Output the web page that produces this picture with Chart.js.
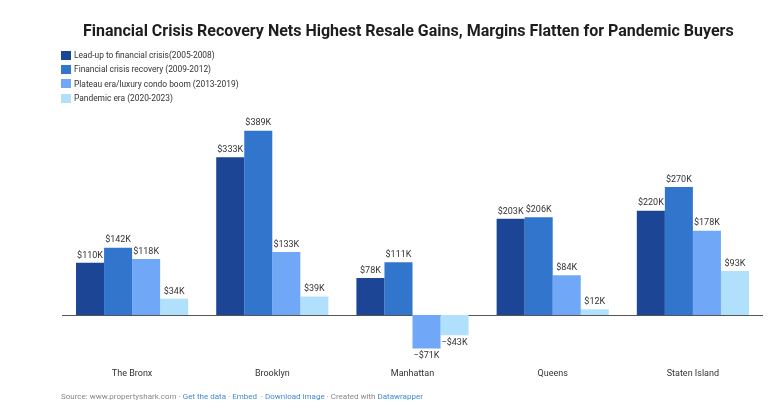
<!DOCTYPE html>
<html>
<head>
<meta charset="utf-8">
<script src="https://cdn.jsdelivr.net/npm/chart.js@4"></script>
<style>
    html, body { margin: 0; padding: 0; background: #fff; }
    body { width: 780px; height: 416px; position: relative; overflow: hidden; font-family: Roboto, sans-serif; }
    #chart { position: absolute; left: 0; top: 0; }
    .title { position: absolute; left: 83px; top: 21px; font-size: 16px; font-weight: 700; color: #1d1d1d; white-space: nowrap; }
    .legend { position: absolute; left: 61px; top: 48px; }
    .legend-item { height: 14.3px; display: flex; align-items: center; font-size: 8.4px; color: #333; }
    .legend-item span.sw { width: 10px; height: 9px; margin-right: 3px; display: inline-block; }
    .footer { position: absolute; left: 61px; top: 392px; font-size: 8px; color: #888; white-space: nowrap; }
    .footer a { color: #3f8ad8; text-decoration: none; }
</style>
</head>
<body>
<canvas id="chart" width="780" height="416"></canvas>
<div class="title">Financial Crisis Recovery Nets Highest Resale Gains, Margins Flatten for Pandemic Buyers</div>
<div class="legend" id="legend"></div>
<div class="footer">Source: www.propertyshark.com · <a>Get the data</a> · <a>Embed</a>&nbsp; · <a>Download image</a> · Created with <a>Datawrapper</a></div>
<script>
// 데이터 (단위: 천 달러)
const boroughs = ['The Bronx', 'Brooklyn', 'Manhattan', 'Queens', 'Staten Island'];
const seriesNames = [
    'Lead-up to financial crisis(2005-2008)',
    'Financial crisis recovery (2009-2012)',
    'Plateau era/luxury condo boom (2013-2019)',
    'Pandemic era (2020-2023)'
];
const leadUp = [110, 333, 78, 203, 220];
const recovery = [142, 389, 111, 206, 270];
const plateau = [118, 133, -71, 84, 178];
const pandemic = [34, 39, -43, 12, 93];
const seriesColors = ['#1c4596', '#3275cd', '#70a7f7', '#b1e0fc'];

// 범례 (HTML)
const legendEl = document.getElementById('legend');
seriesNames.forEach((name, i) => {
    const item = document.createElement('div');
    item.className = 'legend-item';
    item.innerHTML = `<span class="sw" style="background:${seriesColors[i]}"></span>${name}`;
    legendEl.appendChild(item);
});

function formatK(v) {
    return v < 0 ? `\u2212$${-v}K` : `$${v}K`;
}

// 0 기준선 + 값 라벨
const barLabels = {
    id: 'barLabels',
    beforeDatasetsDraw(chart) {
        const { ctx, chartArea, scales } = chart;
        const y0 = Math.round(scales.y.getPixelForValue(0)) + 0.5;
        ctx.save();
        ctx.strokeStyle = '#555';
        ctx.lineWidth = 1;
        ctx.beginPath();
        ctx.moveTo(chartArea.left, y0);
        ctx.lineTo(chartArea.right, y0);
        ctx.stroke();
        ctx.restore();
    },
    afterDatasetsDraw(chart) {
        const { ctx } = chart;
        ctx.save();
        ctx.font = '9px Roboto';
        ctx.fillStyle = '#333';
        ctx.textAlign = 'center';
        chart.data.datasets.forEach((ds, di) => {
            const meta = chart.getDatasetMeta(di);
            meta.data.forEach((bar, i) => {
                const v = ds.data[i];
                if (v >= 0) {
                    ctx.textBaseline = 'bottom';
                    ctx.fillText(formatK(v), bar.x, bar.y - 3);
                } else {
                    ctx.textBaseline = 'top';
                    ctx.fillText(formatK(v), bar.x, bar.y + 3);
                }
            });
        });
        ctx.restore();
    }
};

const allSeries = [leadUp, recovery, plateau, pandemic];

new Chart(document.getElementById('chart'), {
    type: 'bar',
    data: {
        labels: boroughs,
        datasets: allSeries.map((values, i) => ({
            label: seriesNames[i],
            data: values,
            backgroundColor: seriesColors[i],
            borderWidth: 0,
            categoryPercentage: 0.8,
            barPercentage: 1.0
        }))
    },
    options: {
        responsive: false,
        animation: false,
        layout: { padding: { left: 62, right: 17, top: 116, bottom: 32 } },
        plugins: {
            legend: { display: false },
            title: { display: false },
            tooltip: { enabled: false }
        },
        scales: {
            x: {
                grid: { display: false },
                border: { display: false },
                ticks: { color: '#333', font: { family: 'Roboto', size: 9 }, padding: 5 }
            },
            y: {
                display: false,
                min: -85,
                max: 420
            }
        }
    },
    plugins: [barLabels]
});
</script>
</body>
</html>
